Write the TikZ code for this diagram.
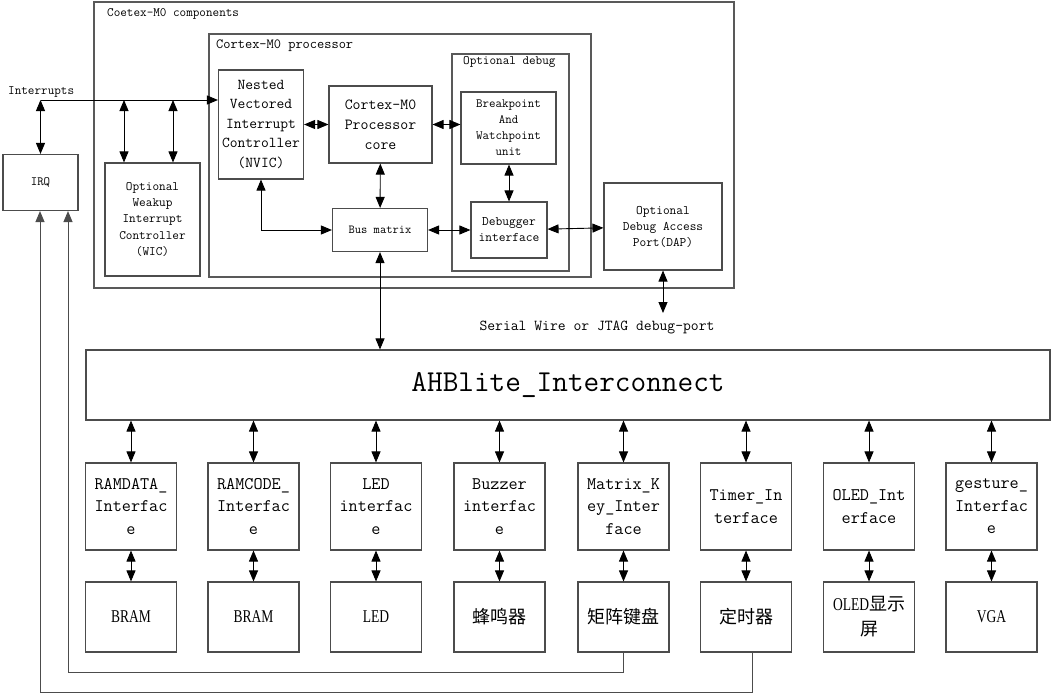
\documentclass[tikz,border=0pt]{standalone}
\usepackage{fontspec}
\newfontfamily\cjk{Noto Sans CJK SC}
\newfontfamily\narrowserif[FakeStretch=0.75]{Liberation Serif}
\usetikzlibrary{arrows.meta,positioning}

\newcommand{\mono}[2]{\ttfamily\fontsize{#1}{#2}\selectfont}

\tikzset{
  blk/.style={draw=black!70, line width=1.1pt, align=center, inner sep=0pt},
  grp/.style={draw=black!65, line width=1.1pt},
  tag/.style={anchor=west, inner sep=0pt, font=\mono{12.8}{15}},
  link/.style={line width=0.9pt, {Triangle[length=11pt,width=9pt]}-{Triangle[length=11pt,width=9pt]}},
  feed/.style={draw=black!70, line width=1pt, -{Triangle[length=11pt,width=9pt]}},
  iface/.style={blk, minimum width=91pt, minimum height=87pt, font=\mono{17.7}{22.5}},
  dev/.style={blk, minimum width=91pt, minimum height=70pt, font=\fontsize{18}{25}\selectfont\narrowserif}
}

\begin{document}
\begin{tikzpicture}[x=1pt,y=-1pt]
\useasboundingbox (0,0) rectangle (1052,693);

% Group frames
\draw[grp] (94,2) rectangle (734,288);
\node[tag] (lcomp) at (107,14) {Coetex-M0 components};
\draw[grp] (209,34) rectangle (591,277);
\node[tag, font=\mono{14}{16}] (lproc) at (216,46) {Cortex-M0 processor};
\draw[grp] (452,54) rectangle (569,271);
\node[tag] (ldbg) at (463,62) {Optional debug};

% Processor blocks
\node[blk, minimum width=85pt, minimum height=109pt, font=\mono{15.1}{19.5}] (nvic) at (261,124.5) {Nested\\Vectored\\Interrupt\\Controller\\(NVIC)};
\node[blk, minimum width=103pt, minimum height=77pt, font=\mono{15.4}{20}] (core) at (380.5,124.5) {Cortex-M0\\Processor\\core};
\node[blk, minimum width=95pt, minimum height=72pt, font=\mono{12.6}{16}] (bkpt) at (508.5,128) {Breakpoint\\And\\Watchpoint\\unit};
\node[blk, minimum width=76pt, minimum height=56pt, font=\mono{13.1}{16}] (dbgif) at (509,230) {Debugger\\interface};
\node[blk, minimum width=95pt, minimum height=43pt, font=\mono{12.2}{14}] (bus) at (380,230) {Bus matrix};
\node[blk, minimum width=118pt, minimum height=87pt, font=\mono{13}{16}] (dap) at (663,226.5) {Optional\\Debug Access\\Port(DAP)};
\node[blk, minimum width=95pt, minimum height=113pt, font=\mono{12.9}{16.3}] (wic) at (152.5,219.5) {Optional\\Weakup\\Interrupt\\Controller\\(WIC)};
\node[blk, minimum width=75pt, minimum height=56pt, font=\mono{12.6}{14}] (irq) at (40.5,182.5) {IRQ};

% Interrupt lines
\node[tag] (lint) at (8,92) {Interrupts};
\coordinate (intr) at (40.5,100);
\coordinate (w1) at (124,100);
\coordinate (w2) at (173,100);
\draw[line width=0.9pt, -{Triangle[length=11pt,width=9pt]}] (intr) -- (nvic.west |- intr);
\draw[link] (intr) -- (irq.north);
\draw[link] (w1) -- (w1 |- wic.north);
\draw[link] (w2) -- (w2 |- wic.north);

% Processor links
\draw[link] (nvic) -- (core);
\draw[link] (core.east) -- (core.east -| bkpt.west);
\draw[link] (core) -- (bus);
\draw[link] (bkpt.south -| dbgif.north) -- (dbgif.north);
\draw[link] (nvic.south) |- (bus.west);
\draw[link] (bus) -- (dbgif);
\draw[link] (dbgif) -- (dap);
\coordinate (swj) at (663,313);
\draw[link] (dap.south) -- (swj);
\node[font=\mono{15.2}{17}] (lswj) at (597,327) {Serial Wire or JTAG debug-port};

% Bus
\node[blk, minimum width=964pt, minimum height=70pt, font=\mono{30.4}{34}] (ahb) at (568,385) {AHBlite\_Interconnect};
\draw[link] (bus.south) -- (bus.south |- ahb.north);

% Peripheral interfaces
\node[iface] (if1) at (131,506.5) {RAMDATA\_\\Interfac\\e};
\node[iface] (if2) at (253.5,506.5) {RAMCODE\_\\Interfac\\e};
\node[iface] (if3) at (376,506.5) {LED\\interfac\\e};
\node[iface] (if4) at (499.5,506.5) {Buzzer\\interfac\\e};
\node[iface] (if5) at (623.5,506.5) {Matrix\_K\\ey\_Inter\\face};
\node[iface] (if6) at (746,506.5) {Timer\_In\\terface};
\node[iface] (if7) at (869,506.5) {OLED\_Int\\erface};
\node[iface] (if8) at (991.5,506.5) {gesture\_\\Interfac\\e};

% Devices
\node[dev] (dv1) at (131,617) {BRAM};
\node[dev] (dv2) at (253.5,617) {BRAM};
\node[dev] (dv3) at (376,617) {LED};
\node[dev] (dv4) at (499.5,617) {\cjk 蜂鸣器};
\node[dev] (dv5) at (623.5,617) {\cjk 矩阵键盘};
\node[dev] (dv6) at (746,617) {\cjk 定时器};
\node[dev] (dv7) at (869,617) {OLED{\cjk 显示}\\{\cjk 屏}};
\node[dev] (dv8) at (991.5,617) {VGA};

% Bus to interface to device
\draw[link] (ahb.south -| if1.north) -- (if1.north);
\draw[link] (ahb.south -| if2.north) -- (if2.north);
\draw[link] (ahb.south -| if3.north) -- (if3.north);
\draw[link] (ahb.south -| if4.north) -- (if4.north);
\draw[link] (ahb.south -| if5.north) -- (if5.north);
\draw[link] (ahb.south -| if6.north) -- (if6.north);
\draw[link] (ahb.south -| if7.north) -- (if7.north);
\draw[link] (ahb.south -| if8.north) -- (if8.north);
\draw[link] (if1) -- (dv1);
\draw[link] (if2) -- (dv2);
\draw[link] (if3) -- (dv3);
\draw[link] (if4) -- (dv4);
\draw[link] (if5) -- (dv5);
\draw[link] (if6) -- (dv6);
\draw[link] (if7) -- (dv7);
\draw[link] (if8) -- (dv8);

% Interrupt feedback
\coordinate (fb1) at (68,672);
\coordinate (fb2) at (40,692);
\coordinate (tmo) at ([xshift=6pt]dv6.south);
\draw[feed] (dv5.south) |- (fb1) -- (fb1 |- irq.south);
\draw[feed] (tmo) |- (fb2) -- (fb2 |- irq.south);
\end{tikzpicture}
\end{document}
